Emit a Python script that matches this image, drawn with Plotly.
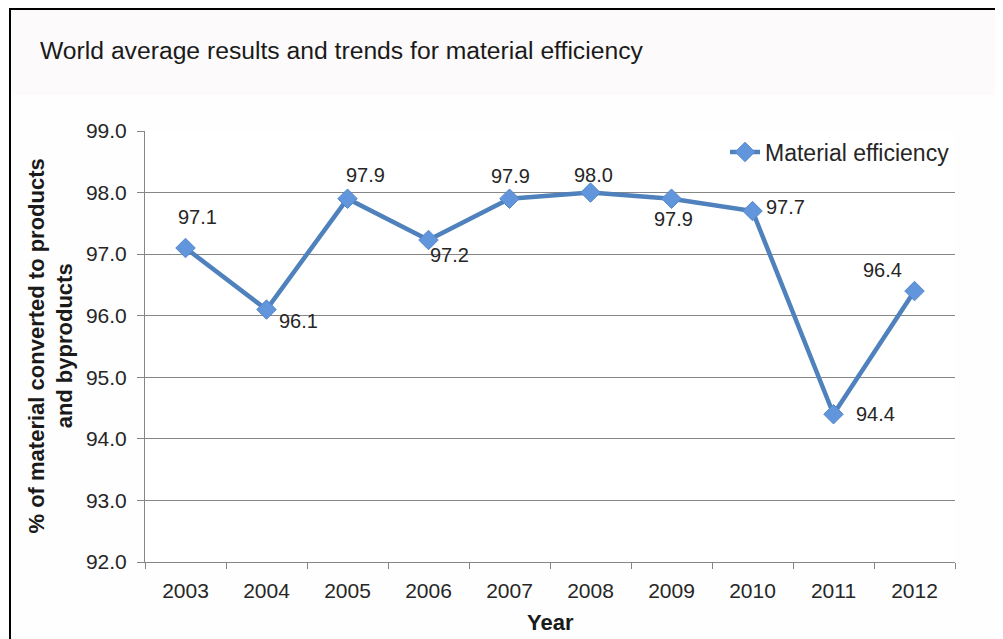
import plotly.graph_objects as go

years = [2003, 2004, 2005, 2006, 2007, 2008, 2009, 2010, 2011, 2012]
year_labels = ["2003", "2004", "2005", "2006", "2007", "2008", "2009", "2010", "2011", "2012"]
efficiency = [97.1, 96.1, 97.9, 97.23, 97.9, 98.0, 97.9, 97.7, 94.4, 96.4]
label_shift_x = [12, 32, 18, 21, 1, 3, 2, 33, 42, -32]
label_shift_y = [31, -11, 24, -15, 23, 18, -20, 4, 0, 21]

W, H = 1003, 639
OFF = 8  # page body margin
L, R, T, B = 145 - OFF, 955 - OFF, 131 - OFF, 562 - OFF

def px(x):
    return (x - OFF - L) / (R - L)

def py(y):
    return (B - (y - OFF)) / (B - T)

font = "Liberation Sans, Arial, sans-serif"
blue = "#4F81BD"
txt = "#262626"
axcol = "#868686"

fig = go.Figure()
fig.add_trace(go.Scatter(
    x=years, y=efficiency, mode="lines+markers", name="Material efficiency",
    line=dict(color=blue, width=4.5),
    marker=dict(symbol="diamond", size=15, color="#6296DC", line=dict(color="#5588C8", width=1)),
))

annotations = []
for yr, v, dx, dy in zip(years, efficiency, label_shift_x, label_shift_y):
    annotations.append(dict(
        x=yr, y=v, xref="x", yref="y", text=f"{v:.1f}", showarrow=False,
        xshift=dx, yshift=dy, font=dict(family=font, size=20, color=txt),
    ))

annotations.append(dict(
    x=px(38), y=py(50), xref="paper", yref="paper", xanchor="left", yanchor="middle",
    text="World average results and trends for material efficiency", showarrow=False,
    font=dict(family=font, size=24.7, color="#1a1a1a"),
))
annotations.append(dict(
    x=px(50), y=0.5, xref="paper", yref="paper", xanchor="center", yanchor="middle",
    textangle=-90, showarrow=False,
    text="<b>% of material converted to products<br>and byproducts</b>",
    font=dict(family=font, size=22, color="#1a1a1a"),
))
annotations.append(dict(
    x=0.5, y=py(622), xref="paper", yref="paper", xanchor="center", yanchor="middle",
    text="<b>Year</b>", showarrow=False,
    font=dict(family=font, size=22, color="#1a1a1a"),
))

shapes = [
    dict(type="rect", xref="paper", yref="paper", x0=px(10), x1=px(1015), y0=py(95), y1=py(8),
         fillcolor="#fcfafa", line=dict(width=0), layer="below"),
    dict(type="line", xref="paper", yref="paper", x0=px(9), x1=px(1015), y0=py(9), y1=py(9),
         line=dict(color="#000000", width=2)),
    dict(type="line", xref="paper", yref="paper", x0=px(10), x1=px(10), y0=py(9), y1=py(660),
         line=dict(color="#000000", width=2)),
]

fig.update_layout(
    width=W, height=H,
    margin=dict(l=L, r=W - R, t=T, b=H - B),
    paper_bgcolor="#fefefe", plot_bgcolor="#ffffff",
    font=dict(family=font, size=20, color=txt),
    showlegend=True,
    legend=dict(x=1.0, xanchor="right", y=py(152), yanchor="middle",
                bgcolor="rgba(0,0,0,0)", font=dict(family=font, size=23, color=txt)),
    annotations=annotations,
    shapes=shapes,
)

fig.update_xaxes(
    range=[2002.5, 2012.5], tickmode="array", tickvals=years, ticktext=year_labels,
    ticks="", showline=True, linecolor=axcol, linewidth=1, showgrid=False, zeroline=False,
    tickfont=dict(family=font, size=21, color=txt), ticklabelstandoff=10,
    minor=dict(ticks="outside", ticklen=6, tickcolor=axcol, tick0=2002.5, dtick=1, showgrid=False),
)
fig.update_yaxes(
    range=[92, 99], dtick=1, tickformat=".1f", ticks="outside", ticklen=7, tickcolor=axcol,
    showline=True, linecolor=axcol, linewidth=1,
    showgrid=True, gridcolor=axcol, gridwidth=1, zeroline=False,
    tickfont=dict(family=font, size=21, color=txt), ticklabelstandoff=6,
)

fig.write_html("out.html")
